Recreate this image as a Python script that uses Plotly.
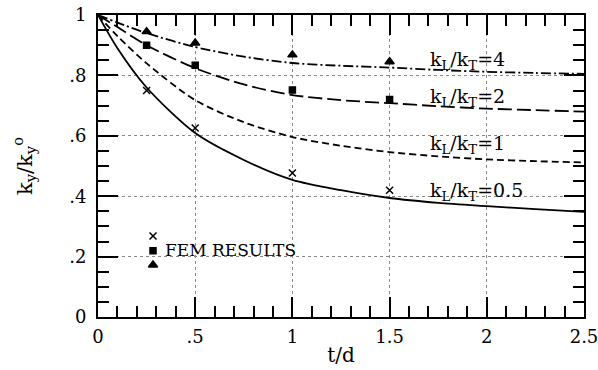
import plotly.graph_objects as go

# ---- data ----
t_curve = [0, 0.1, 0.25, 0.5, 0.75, 1.0, 1.25, 1.5, 1.75, 2.0, 2.25, 2.5]
ky_05 = [1.0, 0.89, 0.76, 0.609, 0.52, 0.454, 0.42, 0.394, 0.378, 0.367, 0.357, 0.348]
ky_1 = [1.0, 0.93, 0.84, 0.718, 0.645, 0.596, 0.567, 0.546, 0.532, 0.522, 0.516, 0.512]
ky_2 = [1.0, 0.96, 0.90, 0.824, 0.77, 0.735, 0.718, 0.708, 0.698, 0.690, 0.685, 0.680]
ky_4 = [1.0, 0.975, 0.94, 0.894, 0.862, 0.841, 0.832, 0.826, 0.818, 0.812, 0.808, 0.805]

t_fem = [0.25, 0.5, 1.0, 1.5]
fem_05 = [0.75, 0.626, 0.477, 0.42]
fem_2 = [0.90, 0.834, 0.752, 0.72]
fem_4 = [0.945, 0.907, 0.868, 0.845]

curve_labels = ["k<sub>L</sub>/k<sub>T</sub>=4", "k<sub>L</sub>/k<sub>T</sub>=2",
                "k<sub>L</sub>/k<sub>T</sub>=1", "k<sub>L</sub>/k<sub>T</sub>=0.5"]
label_pos_y = [0.851, 0.728, 0.57, 0.414]

x_tickvals = [0, 0.5, 1, 1.5, 2, 2.5]
x_ticktext = ["0", ".5", "1", "1.5", "2", "2.5"]
y_tickvals = [0, 0.2, 0.4, 0.6, 0.8, 1.0]
y_ticktext = ["0", ".2", ".4", ".6", ".8", "1"]

FONT = "DejaVu Serif"
XR = [0, 2.5]
YR = [0, 1.0]

fig = go.Figure()

line_styles = [
    (ky_05, "solid"),
    (ky_1, "7px,4px"),
    (ky_2, "14px,5px"),
    (ky_4, "10px,3px,2px,3px"),
]
for vals, dash in line_styles:
    fig.add_trace(go.Scatter(x=t_curve, y=vals, mode="lines",
                             line=dict(color="black", width=1.8, dash=dash, shape="spline", smoothing=0.8),
                             showlegend=False, hoverinfo="skip"))

markers = [
    (fem_05, "x-thin", 7),
    (fem_2, "square", 6),
    (fem_4, "triangle-up", 8),
]
for vals, sym, sz in markers:
    fig.add_trace(go.Scatter(x=t_fem, y=vals, mode="markers",
                             marker=dict(symbol=sym, size=sz, color="black",
                                         line=dict(color="black", width=1.5)),
                             showlegend=False))

# legend key (FEM RESULTS)
leg_x = 0.283
leg_ys = [0.268, 0.219, 0.172]
for (vals, sym, sz), ly in zip(markers, leg_ys):
    fig.add_trace(go.Scatter(x=[leg_x], y=[ly], mode="markers",
                             marker=dict(symbol=sym, size=sz, color="black",
                                         line=dict(color="black", width=1.5)),
                             showlegend=False))
fig.add_annotation(x=0.335, y=0.222, text="FEM RESULTS", showarrow=False, xanchor="left",
                   font=dict(family=FONT, size=17, color="black"))

for txt, ly in zip(curve_labels, label_pos_y):
    fig.add_annotation(x=1.70, y=ly, text=txt, showarrow=False, xanchor="left",
                       font=dict(family=FONT, size=19, color="black"))

axis_common = dict(showline=True, linecolor="black", linewidth=2, mirror="allticks",
                   ticks="inside", ticklen=20, tickwidth=1.6, tickcolor="black",
                   showgrid=True, gridcolor="#888", griddash="dot", gridwidth=1,
                   zeroline=False, automargin=False, ticklabeloverflow="allow")

fig.update_layout(
    xaxis=dict(range=XR, tickvals=x_tickvals, ticktext=x_ticktext,
               tickfont=dict(family=FONT, size=18, color="black"), ticklabelstandoff=2,
               minor=dict(dtick=0.1, tick0=0, ticks="inside", ticklen=11, tickwidth=1.6, tickcolor="black", showgrid=False),
               title=dict(text="t/d", font=dict(family=FONT, size=20, color="black"), standoff=2),
               **axis_common),
    yaxis=dict(range=YR, tickvals=y_tickvals, ticktext=y_ticktext,
               tickfont=dict(family=FONT, size=18, color="black"), ticklabelstandoff=6,
               minor=dict(dtick=0.05, tick0=0, ticks="inside", ticklen=11, tickwidth=1.6, tickcolor="black", showgrid=False),
               title=dict(text="k<sub>y</sub>/k<sub>y</sub><sup>o</sup>", font=dict(family=FONT, size=21, color="black"), standoff=31),
               **axis_common),
    width=598, height=370, margin=dict(l=98, r=14, t=15, b=53),
    plot_bgcolor="white", paper_bgcolor="white")

fig.write_html("out.html", config={"displayModeBar": False},
               post_script="document.body.style.margin='0';document.body.style.padding='0';")
